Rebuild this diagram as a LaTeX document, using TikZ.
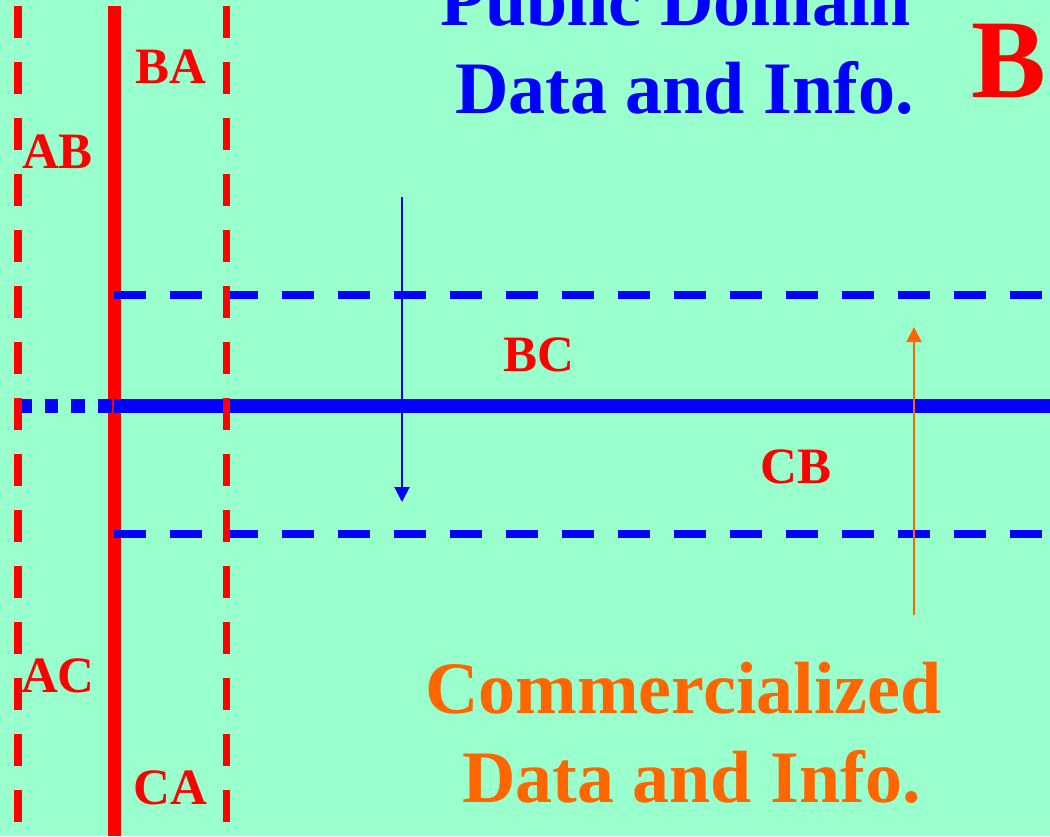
\documentclass[tikz,border=0pt]{standalone}
\usepackage{fontspec}
\setmainfont{Liberation Serif}
\usetikzlibrary{arrows.meta}
\definecolor{bgc}{RGB}{153,255,204}
\definecolor{myred}{RGB}{255,0,0}
\definecolor{myblue}{RGB}{0,0,255}
\definecolor{myorange}{RGB}{255,102,0}
\tikzset{
  bigtxt/.style={anchor=base, inner sep=0pt, font=\bfseries\fontsize{74}{74}\selectfont},
  lbl/.style={anchor=base, inner sep=0pt, text=myred, font=\bfseries\fontsize{51}{51}\selectfont},
  reddash/.style={draw=myred, line width=7.5pt, dash pattern=on 32pt off 24pt},
  bluedash/.style={draw=myblue, line width=8pt, dash pattern=on 32pt off 24pt},
  thinarrow/.style={line width=2pt, -{Triangle[width=15pt,length=15pt]}}
}
\begin{document}
\begin{tikzpicture}[x=1pt,y=-1pt]
\fill[bgc] (0,0) rectangle (1050,836);
\useasboundingbox (0,0) rectangle (1050,836);
% coordinates
\coordinate (ldT) at (18,6);   \coordinate (ldB) at (18,836);
\coordinate (sT) at (114.5,6); \coordinate (sB) at (114.5,836);
\coordinate (rdT) at (226.5,6);\coordinate (rdB) at (226.5,836);
\coordinate (tdL) at (114,294.5); \coordinate (tdR) at (1050,294.5);
\coordinate (bdL) at (114,534); \coordinate (bdR) at (1050,534);
\coordinate (hdL) at (18,406); \coordinate (hM) at (114,406); \coordinate (hR) at (1050,406);
\coordinate (baS) at (402,197); \coordinate (baE) at (402,502);
\coordinate (oaS) at (914,615); \coordinate (oaE) at (914,327);
% solid red vertical
\draw[myred, line width=13pt] (sT) -- (sB);
% blue lines
\draw[bluedash] (tdL) -- (tdR);
\draw[bluedash] (bdL) -- (bdR);
\draw[myblue, line width=13.5pt, dash pattern=on 13.5pt off 13.2pt] (hdL) -- (hM);
\draw[myblue, line width=13.5pt] (hM) -- (hR);
% red dashed verticals
\draw[reddash] (ldT) -- (ldB);
\draw[reddash] (rdT) -- (rdB);
% arrows
\draw[thinarrow, myblue] (baS) -- (baE);
\draw[thinarrow, myorange] (oaS) -- (oaE);
% texts
\node[bigtxt, text=myblue] (pd) at (675.5,25) {Public Domain};
\node[bigtxt, text=myblue] (di1) at (684.5,113) {Data and Info.};
\node[anchor=base, inner sep=0pt, text=myred, font=\bfseries\fontsize{112}{112}\selectfont] (bb) at (1008.5,97) {B};
\node[bigtxt, text=myorange] (cm) at (683.5,713) {Commercialized};
\node[bigtxt, text=myorange] (di2) at (691.5,802) {Data and Info.};
\node[lbl] (ba) at (171,83) {BA};
\node[lbl] (ab) at (57.5,168) {AB};
\node[lbl] (ac) at (58,692) {AC};
\node[lbl] (ca) at (170.5,804) {CA};
\node[lbl] (bc) at (539,371) {BC};
\node[lbl] (cb) at (796,483) {CB};
\end{tikzpicture}
\end{document}
